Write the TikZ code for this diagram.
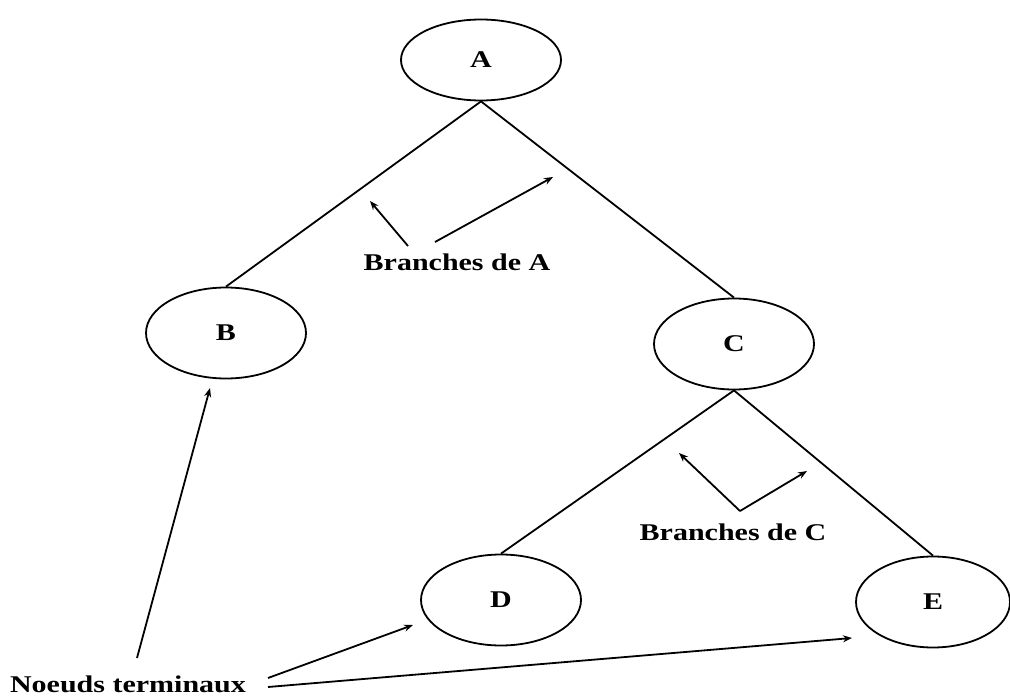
\documentclass[tikz,border=0pt]{standalone}
\usepackage{fontspec}
\setmainfont{Liberation Serif}
\usetikzlibrary{shapes.geometric,arrows.meta}
\newcommand{\widetxt}[1]{\scalebox{1.25}[1]{#1}}
\begin{document}
\begin{tikzpicture}[x=1pt,y=-1pt,
  treenode/.style={draw,ellipse,line width=1.8pt,inner sep=0pt,minimum width=160pt,minimum height=91pt,
    font=\fontsize{24}{28}\selectfont\bfseries},
  lbl/.style={inner sep=0pt,anchor=base,font=\fontsize{24}{28}\selectfont\bfseries},
  edge/.style={line width=1.8pt},
  arr/.style={line width=1.8pt,-{Stealth[length=9pt,width=7pt]}}]
\useasboundingbox (0,0) rectangle (1010,698);
\node[treenode,minimum height=81pt] (A) at (481,60) {\widetxt{A}};
\node[treenode] (B) at (226,333) {\widetxt{B}};
\node[treenode] (C) at (734,344) {\widetxt{C}};
\node[treenode] (D) at (501,600) {\widetxt{D}};
\node[treenode,minimum width=154pt] (E) at (933,602) {\widetxt{E}};
\draw[edge] (A.south) -- (B.north);
\draw[edge] (A.south) -- (C.north);
\draw[edge] (C.south) -- (D.north);
\draw[edge] (C.south) -- (E.north);
\node[lbl] (bA) at (457,270) {\widetxt{Branches de A}};
\node[lbl] (bC) at (733,540) {\widetxt{Branches de C}};
\node[lbl] (nt) at (128,692) {\widetxt{Noeuds terminaux}};
\coordinate (a1s) at (408,246);
\coordinate (a1e) at (370,201);
\coordinate (a2s) at (435,242);
\coordinate (a2e) at (553,177);
\coordinate (cv) at (740,511);
\coordinate (c1e) at (679,453);
\coordinate (c2e) at (807,471);
\coordinate (n1s) at (137,658);
\coordinate (n1e) at (210,388);
\coordinate (n2s) at (268,678);
\coordinate (n2e) at (413,625);
\coordinate (n3s) at (268,687);
\coordinate (n3e) at (852,638);
\draw[arr] (a1s) -- (a1e);
\draw[arr] (a2s) -- (a2e);
\draw[arr] (cv) -- (c1e);
\draw[arr] (cv) -- (c2e);
\draw[arr] (n1s) -- (n1e);
\draw[arr] (n2s) -- (n2e);
\draw[arr] (n3s) -- (n3e);
\end{tikzpicture}
\end{document}
